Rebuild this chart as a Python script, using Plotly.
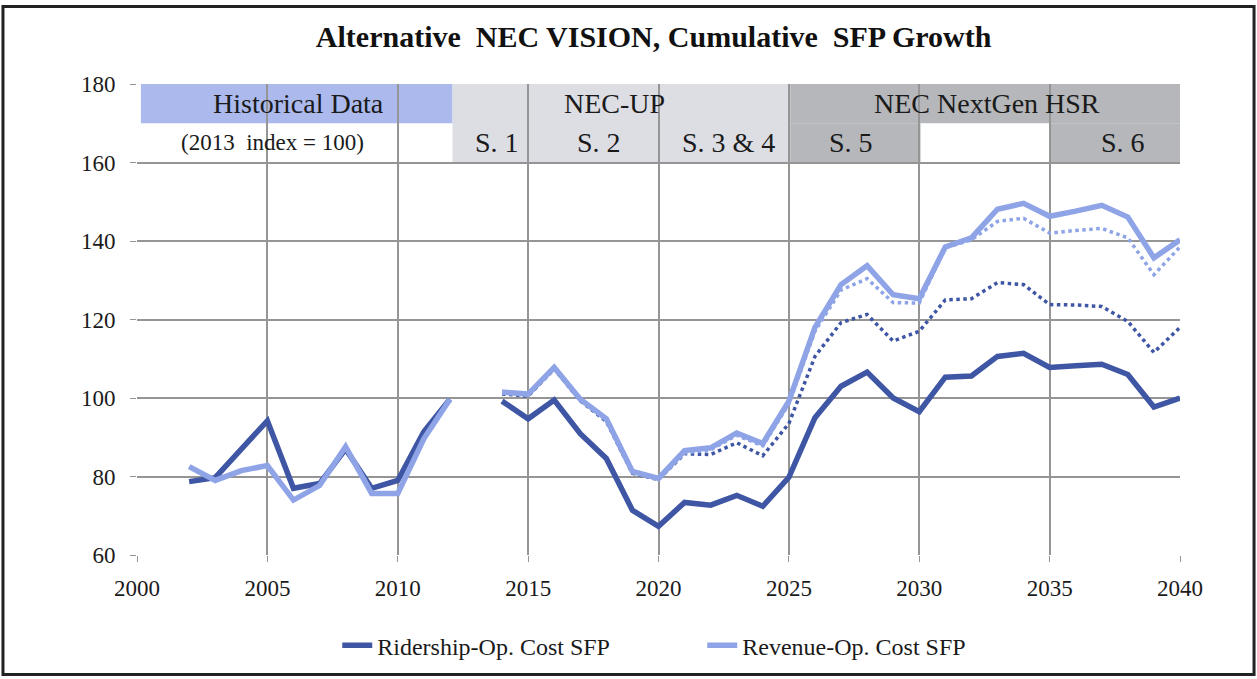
import plotly.graph_objects as go

hist_years = list(range(2002, 2013))
hist_ridership = [78.7, 79.7, 87.0, 94.2, 77.0, 78.2, 87.0, 77.0, 79.0, 91.4, 99.7]
hist_revenue = [82.5, 79.0, 81.5, 82.8, 74.0, 77.7, 87.6, 75.7, 75.7, 89.6, 99.7]

proj_years = list(range(2014, 2041))
proj_ridership = [99.2, 94.7, 99.5, 90.9, 84.6, 71.4, 67.3, 73.4, 72.7, 75.2, 72.4, 79.8, 95.0,
                  103.0, 106.6, 100.0, 96.5, 105.3, 105.6, 110.6, 111.4, 107.8, 108.2, 108.6,
                  106.0, 97.7, 100.0]
proj_revenue = [101.5, 101.0, 107.8, 99.7, 94.7, 81.3, 79.5, 86.6, 87.3, 91.1, 88.4, 99.2, 118.0,
                128.9, 133.7, 126.3, 125.3, 138.5, 140.8, 148.1, 149.6, 146.3, 147.6, 149.1,
                146.1, 135.7, 140.3]
# dotted companion series (no legend entry)
proj_rev_dot_light = [101.3, 100.8, 107.6, 99.5, 94.3, 81.0, 79.3, 86.0, 86.8, 90.5, 87.8, 98.5, 117.0,
                      127.5, 130.4, 124.3, 124.2, 138.3, 140.3, 145.0, 145.8, 142.0, 142.7, 143.2,
                      140.8, 131.4, 138.5]
proj_rev_dot_dark = [101.0, 100.5, 107.4, 99.3, 94.0, 80.8, 79.2, 85.8, 85.6, 88.6, 85.3, 93.5, 110.6,
                     119.2, 121.3, 114.5, 117.0, 125.0, 125.3, 129.4, 128.9, 123.8, 123.7, 123.3,
                     119.5, 111.6, 118.0]

dark = '#3e56a4'
light = '#8ea4e6'
grid = '#959595'
font_family = 'Liberation Serif'

fig = go.Figure()

fig.add_trace(go.Scatter(x=hist_years, y=hist_ridership, mode='lines', name='Ridership-Op. Cost SFP',
                         line=dict(color=dark, width=5.5), legendgroup='r'))
fig.add_trace(go.Scatter(x=proj_years, y=proj_ridership, mode='lines', showlegend=False,
                         line=dict(color=dark, width=5.5), legendgroup='r'))
fig.add_trace(go.Scatter(x=proj_years, y=proj_rev_dot_dark, mode='lines', showlegend=False,
                         line=dict(color=dark, width=3.5, dash='dot')))
fig.add_trace(go.Scatter(x=hist_years, y=hist_revenue, mode='lines', name='Revenue-Op. Cost SFP',
                         line=dict(color=light, width=5.5), legendgroup='v'))
fig.add_trace(go.Scatter(x=proj_years, y=proj_revenue, mode='lines', showlegend=False,
                         line=dict(color=light, width=5.5), legendgroup='v'))
fig.add_trace(go.Scatter(x=proj_years, y=proj_rev_dot_light, mode='lines', showlegend=False,
                         line=dict(color=light, width=3.5, dash='dot')))

# header bands drawn in data coordinates
bands = [
    (2000.15, 2012.1, 170, 180, '#abb9ed'),
    (2012.1, 2025.05, 160, 180, '#dcdee4'),
    (2025.05, 2040, 170, 180, '#b5b7bb'),
    (2025.05, 2030.05, 160, 170, '#b5b7bb'),
    (2035.0, 2040, 160, 170, '#b5b7bb'),
]
shapes = []
for x0, x1, y0, y1, c in bands:
    shapes.append(dict(type='rect', xref='x', yref='y', x0=x0, x1=x1, y0=y0, y1=y1,
                       fillcolor=c, line=dict(width=0), layer='below'))
# outer frame
shapes.append(dict(type='rect', xref='paper', yref='paper', x0=-0.1285, x1=1.0710, y0=-0.2535, y1=1.1645,
                   line=dict(color='#222222', width=3), fillcolor='rgba(0,0,0,0)'))

labels = [
    (2006.2, 175, 'Historical Data', 28),
    (2005.2, 165, '(2013  index = 100)', 23),
    (2018.3, 175, 'NEC-UP', 28),
    (2013.8, 165, 'S. 1', 28),
    (2017.7, 165, 'S. 2', 28),
    (2022.7, 165, 'S. 3 &amp; 4', 28),
    (2032.6, 175, 'NEC NextGen HSR', 28),
    (2027.4, 165, 'S. 5', 28),
    (2037.8, 165, 'S. 6', 28),
]
annotations = [dict(x=x, y=y, xref='x', yref='y', text=t, showarrow=False,
                    font=dict(family=font_family, size=s, color='#1a1a1a')) for x, y, t, s in labels]

fig.update_layout(
    width=1257, height=679,
    margin=dict(l=137, r=77, t=84, b=123),
    paper_bgcolor='white', plot_bgcolor='white',
    title=dict(text='<b>Alternative  NEC VISION, Cumulative  SFP Growth</b>', x=0.52, xanchor='center',
               y=0.946, yanchor='middle', font=dict(family=font_family, size=30, color='#111111')),
    font=dict(family=font_family, size=23, color='#1a1a1a'),
    xaxis=dict(range=[2000, 2040], tickvals=list(range(2000, 2041, 5)), showgrid=True, gridcolor=grid,
               gridwidth=1.5, zeroline=False, ticks='outside', ticklen=6, tickcolor=grid,
               showline=False, tickfont=dict(size=23), ticklabelstandoff=6),
    yaxis=dict(range=[60, 180], tickvals=list(range(60, 181, 20)), showgrid=True, gridcolor=grid,
               gridwidth=1.5, zeroline=False, ticks='outside', ticklen=6, tickcolor=grid,
               showline=False, tickfont=dict(size=23), ticklabelstandoff=10),
    legend=dict(orientation='h', x=0.192, xanchor='left', y=-0.19, yanchor='middle',
                font=dict(size=24), entrywidth=320, entrywidthmode='pixels'),
    shapes=shapes,
    annotations=annotations,
)

fig.write_html('out.html', config={'displayModeBar': False},
               post_script="document.body.style.margin='0';document.body.style.overflow='hidden';")
